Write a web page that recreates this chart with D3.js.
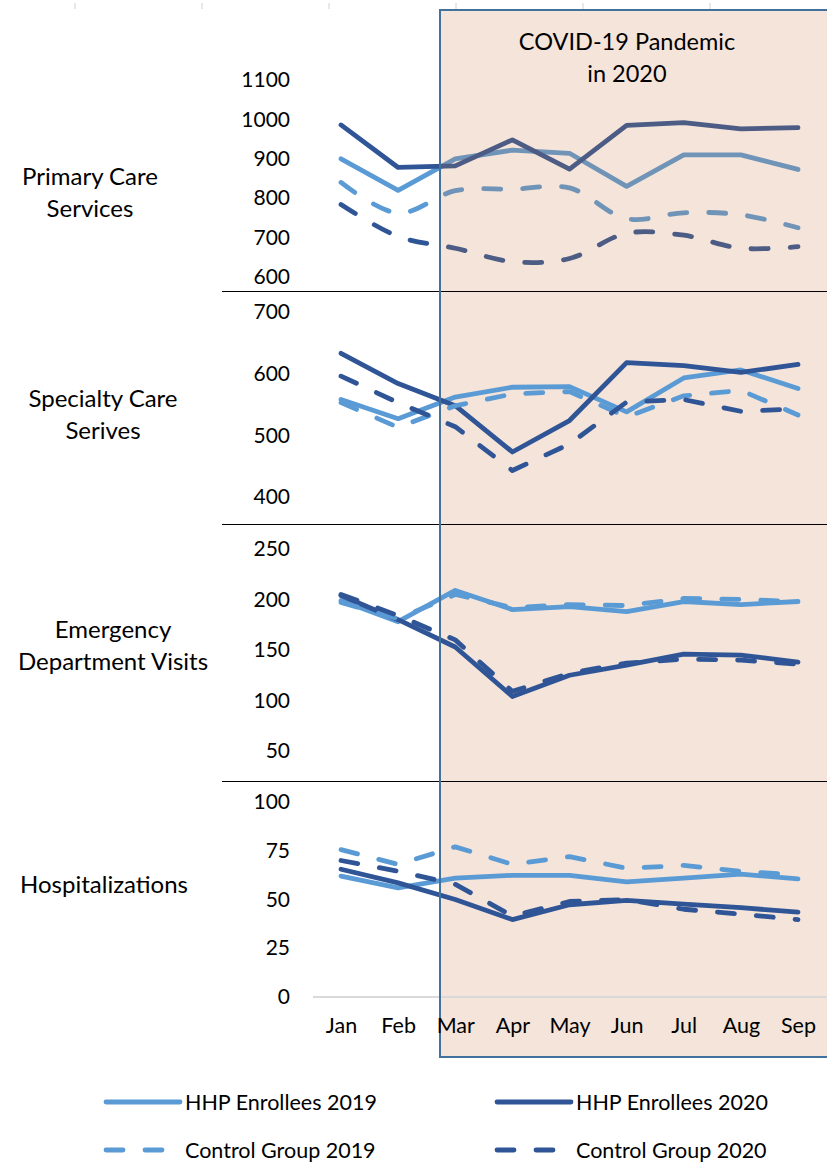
<!DOCTYPE html>
<html>
<head>
<meta charset="utf-8">
<script src="https://cdn.jsdelivr.net/npm/d3@7"></script>
<style>
  body { margin: 0; background: #fff; }
  svg { display: block; font-family: Lato, "Open Sans", sans-serif; }
</style>
</head>
<body>
<svg id="chart" width="827" height="1165"></svg>
<script>
// months along the x axis
const months = ["Jan", "Feb", "Mar", "Apr", "May", "Jun", "Jul", "Aug", "Sep"];

// series order: HHP 2019, HHP 2020, Control 2019, Control 2020
const seriesNames = ["HHP Enrollees 2019", "HHP Enrollees 2020", "Control Group 2019", "Control Group 2020"];

const primaryCare = [
  [900, 820, 900, 922, 914, 830, 910, 910, 873],
  [986, 878, 882, 948, 874, 985, 992, 976, 979],
  [840, 762, 819, 823, 826, 748, 763, 758, 725],
  [784, 703, 673, 639, 647, 711, 706, 673, 677]
];
const specialtyCare = [
  [558, 527, 562, 578, 579, 538, 593, 606, 576],
  [633, 584, 548, 473, 524, 618, 613, 602, 615],
  [553, 513, 548, 567, 571, 530, 564, 573, 533],
  [596, 553, 514, 443, 486, 554, 558, 539, 543]
];
const emergencyVisits = [
  [199, 178, 209, 190, 193, 188, 198, 195, 198],
  [204, 180, 153, 104, 125, 135, 146, 145, 138],
  [197, 181, 205, 192, 195, 194, 201, 200, 198],
  [205, 184, 160, 109, 127, 137, 141, 140, 136]
];
const hospitalizations = [
  [62, 56, 61, 62.4, 62.4, 59, 61, 63, 60.6],
  [65.5, 58.5, 50, 39.7, 47.3, 49.5, 47.6, 45.8, 43.5],
  [75.6, 68, 77, 68, 72, 66, 67.5, 64.4, 62.7],
  [70, 64.5, 57.8, 41.5, 49, 50, 45, 42.5, 39.7]
];

// panel labels and tick values
const panelLabels = [["Primary Care", "Services"], ["Specialty Care", "Serives"], ["Emergency", "Department Visits"], ["Hospitalizations"]];
const panelDomains = [[600, 1100], [400, 700], [50, 250], [0, 100]];
const panelTicks = [
  [600, 700, 800, 900, 1000, 1100],
  [400, 500, 600, 700],
  [50, 100, 150, 200, 250],
  [0, 25, 50, 75, 100]
];
const panelData = [primaryCare, specialtyCare, emergencyVisits, hospitalizations];

// layout
const panelRanges = [[277, 80], [497, 312], [751, 549], [997, 802]];
const labelX = [90, 103, 113, 104];
const labelY = [193, 415, 646, 885];
const separators = [291, 524, 781];
const colors = ["#5b9bd5", "#2f5597", "#5b9bd5", "#2f5597"];
const dashed = [false, false, true, true];

const svg = d3.select("#chart");

const xScale = d3.scalePoint().domain(months).range([341, 798]);

// faint tick marks along the top edge
svg.selectAll(".top-tick")
  .data(d3.range(6))
  .enter().append("line")
  .attr("x1", d => 75 + d * 127)
  .attr("x2", d => 75 + d * 127)
  .attr("y1", 3).attr("y2", 9)
  .style("stroke", "#d0d0d0").style("stroke-width", 1);

const yScales = panelDomains.map((dom, i) => d3.scaleLinear().domain(dom).range(panelRanges[i]));

function drawPanel(p) {
  const g = svg.append("g").attr("class", "panel-" + p);
  const y = yScales[p];
  panelData[p].forEach((values, s) => {
    const smooth = p === 0 && dashed[s];
    const line = d3.line()
      .x((d, i) => xScale(months[i]))
      .y(d => y(d))
      .curve(smooth ? d3.curveCatmullRom.alpha(0.5) : d3.curveLinear);
    g.append("path")
      .datum(values)
      .attr("d", line)
      .style("fill", "none")
      .style("stroke", colors[s])
      .style("stroke-width", 4.8)
      .style("stroke-linecap", "round")
      .style("stroke-linejoin", "round")
      .style("stroke-dasharray", dashed[s] ? "17,22" : null);
  });
}

// the first panel sits under the translucent pandemic box
drawPanel(0);

svg.append("rect")
  .attr("x", 440).attr("y", 10)
  .attr("width", 400).attr("height", 1047)
  .style("fill", "#c87841")
  .style("fill-opacity", 0.2);

drawPanel(1);
drawPanel(2);
drawPanel(3);

// zero baseline of the last panel
svg.append("line")
  .attr("x1", 313).attr("x2", 827)
  .attr("y1", yScales[3](0)).attr("y2", yScales[3](0))
  .style("stroke", "#d9d9d9").style("stroke-width", 2);

// panel separators
svg.selectAll(".sep")
  .data(separators)
  .enter().append("line")
  .attr("x1", 222).attr("x2", 827)
  .attr("y1", d => d + 0.5).attr("y2", d => d + 0.5)
  .style("stroke", "#000").style("stroke-width", 1)
  .style("shape-rendering", "crispEdges");

// pandemic box border
svg.append("rect")
  .attr("x", 440).attr("y", 10)
  .attr("width", 400).attr("height", 1047)
  .style("fill", "none")
  .style("stroke", "#41719c")
  .style("stroke-width", 2);

svg.append("text")
  .attr("x", 627).attr("y", 50)
  .attr("text-anchor", "middle")
  .style("font-size", "23.5px")
  .text("COVID-19 Pandemic");
svg.append("text")
  .attr("x", 627).attr("y", 82)
  .attr("text-anchor", "middle")
  .style("font-size", "23.5px")
  .text("in 2020");

// y axes
yScales.forEach((y, p) => {
  const axis = d3.axisLeft(y).tickValues(panelTicks[p]).tickFormat(d3.format("d")).tickSize(0).tickPadding(0);
  const ag = svg.append("g")
    .attr("transform", "translate(290,0)")
    .call(axis);
  ag.select(".domain").remove();
  ag.selectAll("text")
    .style("font-family", "Lato, sans-serif")
    .style("font-size", "21px")
    .style("fill", "#000");
});

// x axis labels
const xAxis = d3.axisBottom(xScale).tickSize(0).tickPadding(0);
const xg = svg.append("g").attr("transform", "translate(0,1018)").call(xAxis);
xg.select(".domain").remove();
xg.selectAll("text")
  .style("font-family", "Lato, sans-serif")
  .style("font-size", "21.5px")
  .style("fill", "#000");

// panel labels on the left
panelLabels.forEach((lines, p) => {
  const t = svg.append("text")
    .attr("x", labelX[p])
    .attr("text-anchor", "middle")
    .style("font-size", "24px");
  lines.forEach((ln, k) => {
    t.append("tspan")
      .attr("x", labelX[p])
      .attr("y", labelY[p] + (k - (lines.length - 1) / 2) * 32)
      .attr("dy", "0.35em")
      .text(ln);
  });
});

// legend
const legendX = [106, 497];
const legendY = [1102, 1150];
seriesNames.forEach((name, s) => {
  const lx = legendX[s % 2];
  const ly = legendY[Math.floor(s / 2)];
  svg.append("line")
    .attr("x1", lx).attr("x2", lx + 74)
    .attr("y1", ly).attr("y2", ly)
    .style("stroke", colors[s])
    .style("stroke-width", 4.8)
    .style("stroke-linecap", "round")
    .style("stroke-dasharray", dashed[s] ? "17,22" : null);
  svg.append("text")
    .attr("x", lx + 79).attr("y", ly)
    .attr("dy", "0.35em")
    .style("font-size", "21.5px")
    .text(name);
});
</script>
</body>
</html>
